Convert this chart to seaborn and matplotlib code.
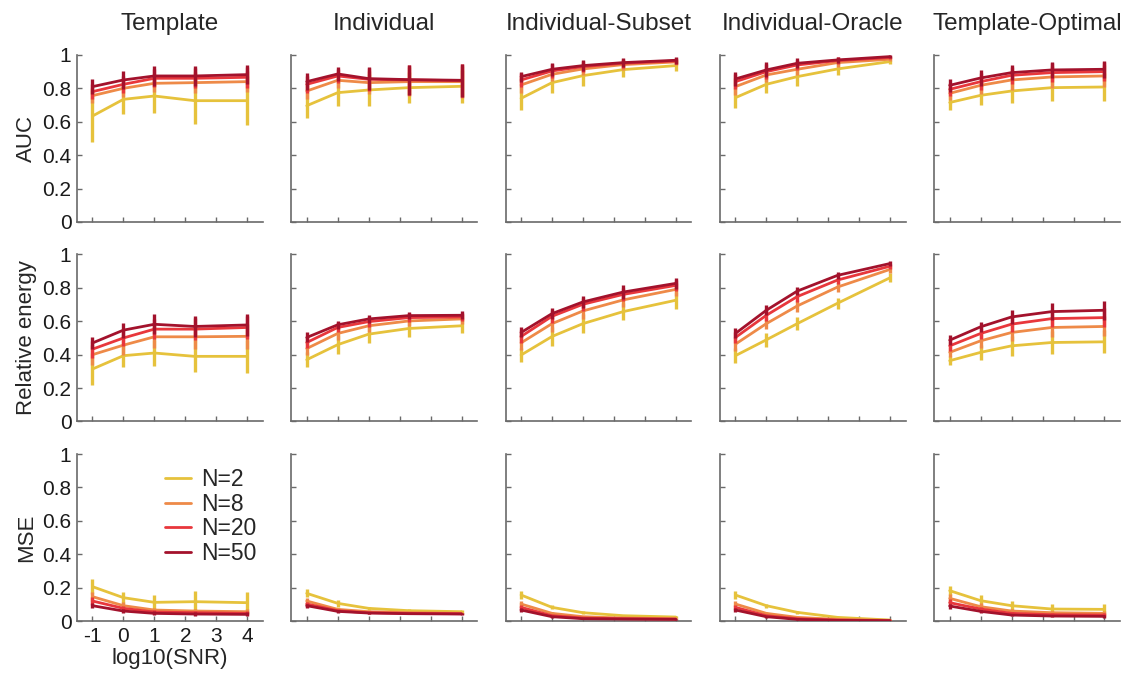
import matplotlib
matplotlib.use("Agg")
import numpy as np
import pandas as pd
import matplotlib.pyplot as plt
import seaborn as sns

# x positions (log10 SNR) at which each condition was evaluated
log_snr = [-1, 0, 1, 2.3, 4]
n_labels = ["N=2", "N=8", "N=20", "N=50"]
methods = ["Template", "Individual", "Individual-Subset", "Individual-Oracle", "Template-Optimal"]
metrics = ["AUC", "Relative energy", "MSE"]
x_ticks = [-1, 0, 1, 2, 3, 4]
x_tick_labels = ["-1", "0", "1", "2", "3", "4"]
y_ticks = [0, 0.2, 0.4, 0.6, 0.8, 1.0]
y_tick_labels = ["0", "0.2", "0.4", "0.6", "0.8", "1"]

# ---- AUC: mean per N (rows) and half-width of error bar ----
auc_template = [[0.634, 0.734, 0.754, 0.726, 0.726],
                [0.756, 0.800, 0.830, 0.834, 0.840],
                [0.780, 0.824, 0.860, 0.860, 0.866],
                [0.810, 0.850, 0.874, 0.874, 0.882]]
auc_template_err = [[0.155, 0.090, 0.100, 0.140, 0.146],
                    [0.045, 0.050, 0.055, 0.065, 0.065],
                    [0.045, 0.050, 0.055, 0.060, 0.062],
                    [0.044, 0.054, 0.060, 0.060, 0.058]]

auc_individual = [[0.696, 0.774, 0.790, 0.804, 0.812],
                  [0.784, 0.848, 0.834, 0.840, 0.840],
                  [0.824, 0.874, 0.854, 0.850, 0.846],
                  [0.840, 0.886, 0.858, 0.852, 0.848]]
auc_individual_err = [[0.076, 0.078, 0.094, 0.094, 0.100],
                      [0.050, 0.045, 0.070, 0.085, 0.095],
                      [0.050, 0.040, 0.070, 0.090, 0.100],
                      [0.053, 0.040, 0.070, 0.090, 0.100]]

auc_subset = [[0.740, 0.834, 0.876, 0.912, 0.936],
              [0.820, 0.884, 0.916, 0.942, 0.958],
              [0.850, 0.904, 0.930, 0.950, 0.964],
              [0.870, 0.914, 0.936, 0.954, 0.968]]
auc_subset_err = [[0.070, 0.060, 0.060, 0.046, 0.032],
                  [0.050, 0.040, 0.035, 0.030, 0.020],
                  [0.040, 0.040, 0.035, 0.028, 0.020],
                  [0.030, 0.040, 0.035, 0.028, 0.020]]

auc_oracle = [[0.744, 0.824, 0.870, 0.916, 0.960],
              [0.810, 0.880, 0.914, 0.954, 0.974],
              [0.840, 0.900, 0.940, 0.966, 0.984],
              [0.856, 0.910, 0.950, 0.970, 0.990]]
auc_oracle_err = [[0.064, 0.050, 0.054, 0.036, 0.012],
                  [0.050, 0.040, 0.035, 0.025, 0.012],
                  [0.045, 0.045, 0.030, 0.020, 0.010],
                  [0.040, 0.045, 0.030, 0.020, 0.010]]

auc_optimal = [[0.715, 0.758, 0.784, 0.804, 0.808],
               [0.770, 0.818, 0.850, 0.868, 0.874],
               [0.794, 0.840, 0.878, 0.894, 0.900],
               [0.818, 0.862, 0.894, 0.910, 0.914]]
auc_optimal_err = [[0.044, 0.060, 0.074, 0.080, 0.084],
                   [0.040, 0.050, 0.060, 0.065, 0.065],
                   [0.040, 0.050, 0.050, 0.055, 0.055],
                   [0.040, 0.046, 0.046, 0.050, 0.050]]

# ---- Relative energy ----
energy_template = [[0.314, 0.394, 0.410, 0.390, 0.390],
                   [0.400, 0.457, 0.507, 0.507, 0.510],
                   [0.433, 0.500, 0.553, 0.553, 0.563],
                   [0.470, 0.547, 0.582, 0.569, 0.578]]
energy_template_err = [[0.094, 0.066, 0.076, 0.096, 0.100],
                       [0.060, 0.060, 0.065, 0.070, 0.075],
                       [0.050, 0.050, 0.060, 0.065, 0.070],
                       [0.035, 0.045, 0.060, 0.063, 0.068]]

energy_individual = [[0.370, 0.460, 0.523, 0.557, 0.573],
                     [0.437, 0.527, 0.573, 0.602, 0.614],
                     [0.473, 0.563, 0.598, 0.622, 0.626],
                     [0.503, 0.579, 0.614, 0.634, 0.636]]
energy_individual_err = [[0.046, 0.056, 0.056, 0.050, 0.044],
                         [0.040, 0.040, 0.035, 0.030, 0.030],
                         [0.035, 0.030, 0.030, 0.025, 0.025],
                         [0.030, 0.025, 0.025, 0.020, 0.025]]

energy_subset = [[0.398, 0.509, 0.586, 0.658, 0.726],
                 [0.471, 0.586, 0.662, 0.728, 0.791],
                 [0.509, 0.630, 0.702, 0.761, 0.815],
                 [0.533, 0.646, 0.716, 0.775, 0.827]]
energy_subset_err = [[0.044, 0.056, 0.058, 0.052, 0.050],
                     [0.045, 0.050, 0.050, 0.045, 0.040],
                     [0.040, 0.040, 0.040, 0.040, 0.035],
                     [0.030, 0.035, 0.035, 0.040, 0.035]]

energy_oracle = [[0.394, 0.489, 0.586, 0.708, 0.861],
                 [0.463, 0.586, 0.692, 0.805, 0.911],
                 [0.503, 0.636, 0.748, 0.847, 0.930],
                 [0.527, 0.666, 0.781, 0.875, 0.946]]
energy_oracle_err = [[0.044, 0.042, 0.040, 0.032, 0.026],
                     [0.040, 0.035, 0.035, 0.030, 0.020],
                     [0.035, 0.035, 0.030, 0.025, 0.015],
                     [0.030, 0.030, 0.025, 0.020, 0.012]]

energy_optimal = [[0.364, 0.414, 0.453, 0.473, 0.477],
                  [0.414, 0.483, 0.533, 0.563, 0.569],
                  [0.453, 0.527, 0.583, 0.616, 0.622],
                  [0.487, 0.567, 0.626, 0.658, 0.666]]
energy_optimal_err = [[0.026, 0.046, 0.060, 0.070, 0.068],
                      [0.030, 0.040, 0.050, 0.055, 0.060],
                      [0.030, 0.035, 0.045, 0.050, 0.055],
                      [0.030, 0.030, 0.042, 0.050, 0.056]]

# ---- MSE ----
mse_template = [[0.206, 0.140, 0.112, 0.116, 0.110],
                [0.146, 0.092, 0.066, 0.060, 0.056],
                [0.120, 0.076, 0.054, 0.050, 0.046],
                [0.092, 0.060, 0.046, 0.042, 0.040]]
mse_template_err = [[0.044, 0.036, 0.044, 0.066, 0.062],
                    [0.030, 0.020, 0.015, 0.015, 0.015],
                    [0.025, 0.015, 0.012, 0.012, 0.012],
                    [0.015, 0.012, 0.012, 0.012, 0.012]]

mse_individual = [[0.166, 0.106, 0.076, 0.062, 0.056],
                  [0.120, 0.070, 0.056, 0.050, 0.046],
                  [0.102, 0.062, 0.050, 0.046, 0.044],
                  [0.092, 0.058, 0.048, 0.044, 0.042]]
mse_individual_err = [[0.024, 0.020, 0.010, 0.008, 0.008],
                      [0.020, 0.010, 0.006, 0.005, 0.005],
                      [0.015, 0.008, 0.005, 0.004, 0.004],
                      [0.012, 0.008, 0.005, 0.004, 0.004]]

mse_subset = [[0.156, 0.082, 0.050, 0.032, 0.024],
              [0.102, 0.046, 0.026, 0.018, 0.014],
              [0.082, 0.032, 0.018, 0.014, 0.012],
              [0.066, 0.026, 0.014, 0.012, 0.010]]
mse_subset_err = [[0.022, 0.012, 0.008, 0.005, 0.004],
                  [0.020, 0.008, 0.004, 0.003, 0.003],
                  [0.015, 0.006, 0.003, 0.002, 0.002],
                  [0.012, 0.005, 0.003, 0.002, 0.002]]

mse_oracle = [[0.156, 0.092, 0.052, 0.022, 0.006],
              [0.102, 0.046, 0.022, 0.010, 0.004],
              [0.082, 0.032, 0.014, 0.006, 0.002],
              [0.066, 0.026, 0.010, 0.004, 0.002]]
mse_oracle_err = [[0.022, 0.012, 0.008, 0.004, 0.002],
                  [0.020, 0.008, 0.004, 0.002, 0.001],
                  [0.015, 0.006, 0.003, 0.001, 0.001],
                  [0.012, 0.005, 0.002, 0.001, 0.001]]

mse_optimal = [[0.182, 0.122, 0.092, 0.072, 0.070],
               [0.136, 0.086, 0.060, 0.050, 0.046],
               [0.110, 0.072, 0.046, 0.038, 0.036],
               [0.090, 0.058, 0.036, 0.030, 0.028]]
mse_optimal_err = [[0.030, 0.034, 0.030, 0.030, 0.032],
                   [0.025, 0.020, 0.015, 0.012, 0.012],
                   [0.020, 0.015, 0.010, 0.010, 0.010],
                   [0.015, 0.010, 0.008, 0.008, 0.008]]

grid_means = [
    [auc_template, auc_individual, auc_subset, auc_oracle, auc_optimal],
    [energy_template, energy_individual, energy_subset, energy_oracle, energy_optimal],
    [mse_template, mse_individual, mse_subset, mse_oracle, mse_optimal],
]
grid_errs = [
    [auc_template_err, auc_individual_err, auc_subset_err, auc_oracle_err, auc_optimal_err],
    [energy_template_err, energy_individual_err, energy_subset_err, energy_oracle_err, energy_optimal_err],
    [mse_template_err, mse_individual_err, mse_subset_err, mse_oracle_err, mse_optimal_err],
]

palette = ["#E6C23C", "#EE8A48", "#E8373C", "#A3122C"]
axis_grey = "#6a6a6a"

sns.set_theme(style="ticks")
plt.rcParams["font.family"] = ["Liberation Sans", "DejaVu Sans"]

fig, axes = plt.subplots(3, 5, figsize=(11.37, 6.78), dpi=100)
fig.subplots_adjust(left=0.0677, right=0.985, top=0.919, bottom=0.084,
                    wspace=0.154, hspace=0.195)

for r, metric in enumerate(metrics):
    for c, method in enumerate(methods):
        ax = axes[r, c]
        means = grid_means[r][c]
        errs = grid_errs[r][c]
        records = []
        for k, lab in enumerate(n_labels):
            for xv, yv in zip(log_snr, means[k]):
                records.append({"log_snr": xv, "value": yv, "N": lab})
        df = pd.DataFrame(records)
        sns.lineplot(data=df, x="log_snr", y="value", hue="N", hue_order=n_labels,
                     palette=palette, linewidth=2.0, errorbar=None, sort=False,
                     legend=False, ax=ax)
        for k, line in enumerate(ax.lines[:len(n_labels)]):
            line.set_zorder(3 + k)
        for k in range(len(n_labels)):
            ax.errorbar(log_snr, means[k], yerr=errs[k], fmt="none",
                        ecolor=palette[k], elinewidth=2.4, capsize=0,
                        zorder=3 + k)

        ax.set_xlim(-1.5, 4.5)
        ax.set_ylim(0, 1)
        ax.set_xticks(x_ticks)
        ax.set_yticks(y_ticks)
        if r == 2 and c == 0:
            ax.set_xticklabels(x_tick_labels)
            ax.set_xlabel("log10(SNR)", fontsize=16, labelpad=2)
        else:
            ax.set_xticklabels([])
            ax.set_xlabel("")
        if c == 0:
            ax.set_yticklabels(y_tick_labels)
            ax.set_ylabel(metric, fontsize=16, labelpad=4)
        else:
            ax.set_yticklabels([])
            ax.set_ylabel("")
        if r == 0:
            ax.set_title(method, fontsize=17.5, pad=18)

        ax.tick_params(direction="in", length=3.5, width=1.0, color=axis_grey,
                       labelsize=15, labelcolor="#1a1a1a", pad=4)
        sns.despine(ax=ax)
        for side in ("left", "bottom"):
            ax.spines[side].set_color(axis_grey)
            ax.spines[side].set_linewidth(1.2)

        if r == 2 and c == 0:
            ax.legend(handles=ax.lines[:len(n_labels)], labels=n_labels,
                      loc="upper right", bbox_to_anchor=(1.04, 1.0),
                      frameon=False, fontsize=16.5, handlelength=1.1,
                      handletextpad=0.45, labelspacing=0.08, borderaxespad=0.2)

fig.savefig("out.png", dpi=100)
